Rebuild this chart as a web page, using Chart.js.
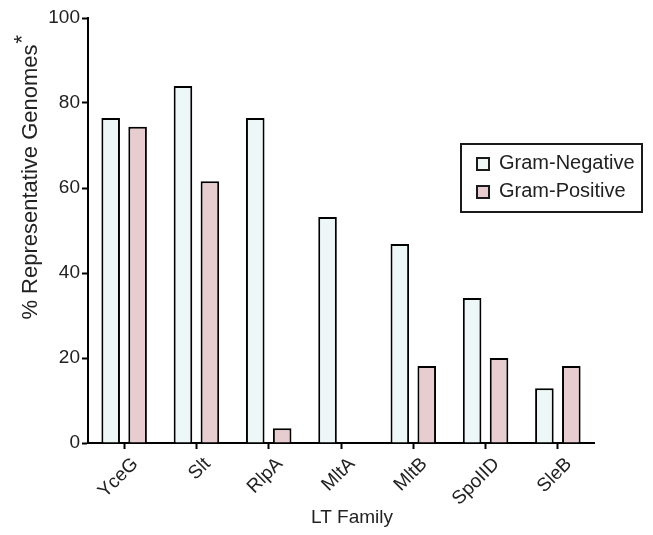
<!DOCTYPE html>
<html>
<head>
<meta charset="utf-8">
<script src="https://cdn.jsdelivr.net/npm/chart.js@4.4.1/dist/chart.umd.min.js"></script>
<style>
  html, body { margin: 0; padding: 0; background: #fff; }
  #wrap { width: 653px; height: 535px; position: relative; }
</style>
</head>
<body>
<div id="wrap"><canvas id="chart"></canvas></div>
<script>
const families = ['YceG', 'Slt', 'RlpA', 'MltA', 'MltB', 'SpoIID', 'SleB'];
const gramNegative = [76.5, 84, 76.5, 53.2, 46.8, 34.1, 12.9];
const gramPositive = [74.4, 61.6, 3.5, 0, 18.1, 20, 18.1];
const yTicks = [0, 20, 40, 60, 80, 100];

const negColor = '#eef7f8';
const posColor = '#e7ccd0';
const FONT = '"Liberation Sans", Arial, Helvetica, sans-serif';

// titles and the boxed legend drawn on top of the chart
const extrasPlugin = {
    id: 'extras',
    afterDraw(chart) {
        const ctx = chart.ctx;
        ctx.save();
        ctx.fillStyle = '#222';

        // y axis title with raised asterisk
        ctx.font = '22px ' + FONT;
        ctx.translate(37, 182);
        ctx.rotate(-Math.PI / 2);
        ctx.textAlign = 'center';
        ctx.textBaseline = 'alphabetic';
        const main = '% Representative Genomes';
        const w = ctx.measureText(main).width;
        ctx.fillText(main, 0, 0);
        ctx.textAlign = 'left';
        ctx.fillText('*', w / 2 + 1, -8);
        ctx.setTransform(1, 0, 0, 1, 0, 0);

        // x axis title
        ctx.font = '19px ' + FONT;
        ctx.textAlign = 'center';
        ctx.textBaseline = 'middle';
        ctx.fillText('LT Family', 352, 518);

        // legend box
        ctx.lineWidth = 2;
        ctx.strokeStyle = '#1a1a1a';
        ctx.strokeRect(461, 144, 181, 68);
        const items = [['Gram-Negative', negColor, 163], ['Gram-Positive', posColor, 191]];
        items.forEach(([label, color, y]) => {
            ctx.fillStyle = color;
            ctx.fillRect(477, y - 5, 12, 12);
            ctx.strokeRect(477, y - 5, 12, 12);
            ctx.fillStyle = '#222';
            ctx.textAlign = 'left';
            ctx.font = '20px ' + FONT;
            ctx.fillText(label, 499, y);
        });
        ctx.restore();
    }
};

new Chart(document.getElementById('chart'), {
    type: 'bar',
    data: {
        labels: families,
        datasets: [
            {
                label: 'Gram-Negative',
                data: gramNegative,
                backgroundColor: negColor,
                borderColor: '#000',
                borderWidth: 2,
                borderSkipped: 'bottom',
                categoryPercentage: 0.745,
                barPercentage: 0.69
            },
            {
                label: 'Gram-Positive',
                data: gramPositive,
                backgroundColor: posColor,
                borderColor: '#000',
                borderWidth: 2,
                borderSkipped: 'bottom',
                categoryPercentage: 0.745,
                barPercentage: 0.69
            }
        ]
    },
    options: {
        responsive: true,
        maintainAspectRatio: false,
        animation: false,
        layout: { padding: { top: 18, right: 59, left: 0, bottom: 0 } },
        plugins: {
            legend: { display: false },
            tooltip: { enabled: false }
        },
        scales: {
            x: {
                afterFit: s => { s.height = 92; },
                grid: {
                    offset: false,
                    drawOnChartArea: false,
                    drawTicks: true,
                    tickLength: 6,
                    tickColor: '#000',
                    tickWidth: 2
                },
                border: { color: '#000', width: 2 },
                ticks: {
                    color: '#222',
                    font: { family: FONT, size: 19 },
                    maxRotation: 45,
                    minRotation: 45,
                    labelOffset: 11,
                    padding: 4
                }
            },
            y: {
                min: 0,
                max: 100,
                afterFit: s => { s.width = 88; },
                afterBuildTicks: s => { s.ticks = yTicks.map(v => ({ value: v })); },
                grid: {
                    drawOnChartArea: false,
                    drawTicks: true,
                    tickLength: 6,
                    tickColor: '#000',
                    tickWidth: 2
                },
                border: { color: '#000', width: 2 },
                ticks: {
                    color: '#222',
                    font: { family: FONT, size: 19 },
                    padding: 2
                }
            }
        }
    },
    plugins: [extrasPlugin]
});
</script>
</body>
</html>
